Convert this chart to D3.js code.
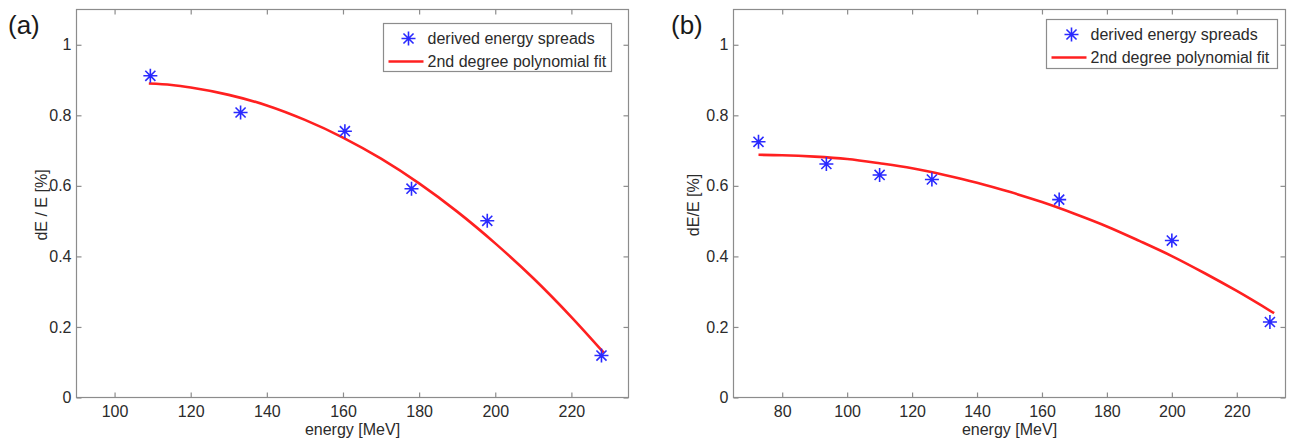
<!DOCTYPE html>
<html>
<head>
<meta charset="utf-8">
<script src="https://cdn.jsdelivr.net/npm/d3@7"></script>
<style>
  body { margin: 0; background: #fff; }
  svg { display: block; font-family: "Liberation Sans", Arial, Helvetica, sans-serif; }
</style>
</head>
<body>
<script>
// panel (a) - measured points + fitted curve samples
const energyA = [109.4, 133.1, 160.5, 178.0, 197.9, 227.9]
const spreadA = [0.912, 0.808, 0.755, 0.592, 0.501, 0.119]
const fitEnergyA = [109, 115, 120, 130, 140, 150, 160, 170, 180, 190, 200, 210, 220, 228.5]
const fitSpreadA = [0.890, 0.886, 0.879, 0.858, 0.828, 0.787, 0.737, 0.677, 0.607, 0.527, 0.437, 0.338, 0.228, 0.127]

// panel (b)
const energyB = [72.7, 93.6, 110.0, 126.1, 165.3, 200.0, 230.2]
const spreadB = [0.725, 0.662, 0.631, 0.618, 0.561, 0.445, 0.214]
const fitEnergyB = [72.7, 80, 90, 100, 110, 120, 130, 140, 150, 160, 170, 180, 190, 200, 210, 220, 231.5]
const fitSpreadB = [0.688, 0.687, 0.683, 0.676, 0.664, 0.650, 0.631, 0.609, 0.583, 0.554, 0.521, 0.485, 0.444, 0.401, 0.353, 0.302, 0.239]

const xTicksA = [100, 120, 140, 160, 180, 200, 220]
const xTicksB = [80, 100, 120, 140, 160, 180, 200, 220]
const yTicks = [0, 0.2, 0.4, 0.6, 0.8, 1]
const legendLabels = ['derived energy spreads', '2nd degree polynomial fit']

const svg = d3.select('body').append('svg').attr('width', 1290).attr('height', 443)

// matlab style '*' marker
const star = (r) => `M${-r},0H${r}M0,${-r}V${r}M${-r*0.72},${-r*0.72}L${r*0.72},${r*0.72}M${-r*0.72},${r*0.72}L${r*0.72},${-r*0.72}`

function panel(p) {
    const x = d3.scaleLinear(p.xDomain, [p.left, p.right])
    const y = d3.scaleLinear([0, 1.1], [p.bottom, p.top])
    const g = svg.append('g')

    // white box
    g.append('rect').attr('x', p.left).attr('y', p.top)
        .attr('width', p.right - p.left).attr('height', p.bottom - p.top)
        .attr('fill', '#fff').attr('stroke', '#8c8c8c').attr('stroke-width', 1.2)

    // inward ticks, all four sides
    const bottom = g.append('g').attr('transform', `translate(0,${p.bottom})`)
        .call(d3.axisBottom(x).tickValues(p.xTicks).tickSizeInner(-5).tickSizeOuter(0).tickPadding(8))
    const top = g.append('g').attr('transform', `translate(0,${p.top})`)
        .call(d3.axisTop(x).tickValues(p.xTicks).tickSizeInner(-5).tickSizeOuter(0).tickFormat(''))
    const left = g.append('g').attr('transform', `translate(${p.left},0)`)
        .call(d3.axisLeft(y).tickValues(yTicks).tickSizeInner(-5).tickSizeOuter(0).tickPadding(5).tickFormat(d => String(d)))
    const right = g.append('g').attr('transform', `translate(${p.right},0)`)
        .call(d3.axisRight(y).tickValues(yTicks).tickSizeInner(-5).tickSizeOuter(0).tickFormat(''))
    ;[bottom, top, left, right].forEach(a => {
        a.select('.domain').remove()
        a.selectAll('line').attr('stroke', '#8c8c8c').attr('stroke-width', 1.2)
        a.selectAll('text').attr('fill', '#2b2b2b').attr('font-size', 16)
            .attr('font-family', '"Liberation Sans", Arial, sans-serif')
    })
    bottom.selectAll('text').attr('dy', '0.71em')

    // axis titles
    g.append('text').attr('x', (p.left + p.right) / 2).attr('y', 435)
        .attr('text-anchor', 'middle').attr('font-size', 16).attr('fill', '#2b2b2b').text('energy [MeV]')
    g.append('text').attr('transform', `translate(${p.yLabelX},205) rotate(-90)`)
        .attr('text-anchor', 'middle').attr('font-size', 16).attr('fill', '#2b2b2b').text(p.yLabel)

    // fit curve
    const fit = p.fitX.map((v, i) => [v, p.fitY[i]])
    g.append('path').datum(fit)
        .attr('d', d3.line().x(d => x(d[0])).y(d => y(d[1])).curve(d3.curveMonotoneX))
        .attr('fill', 'none').attr('stroke', '#ff2020').attr('stroke-width', 2.6)

    // data stars
    g.selectAll('path.pt').data(p.ptX.map((v, i) => [v, p.ptY[i]])).enter().append('path')
        .attr('class', 'pt')
        .attr('transform', d => `translate(${x(d[0])},${y(d[1])})`)
        .attr('d', star(7))
        .attr('stroke', '#2a2aff').attr('stroke-width', 1.6).attr('fill', 'none')

    // legend
    const L = p.legend
    g.append('rect').attr('x', L.x).attr('y', L.y).attr('width', L.w).attr('height', L.h)
        .attr('fill', '#fff').attr('stroke', '#8c8c8c').attr('stroke-width', 1.2)
    g.append('path').attr('transform', `translate(${L.x + 25},${L.y + 15})`).attr('d', star(7))
        .attr('stroke', '#2a2aff').attr('stroke-width', 1.6).attr('fill', 'none')
    g.append('line').attr('x1', L.x + 5).attr('x2', L.x + 40)
        .attr('y1', L.y + 38).attr('y2', L.y + 38)
        .attr('stroke', '#ff2020').attr('stroke-width', 2.6)
    legendLabels.forEach((t, i) => {
        g.append('text').attr('x', L.x + 44).attr('y', L.y + 20 + i * 23)
            .attr('font-size', 16).attr('fill', '#2b2b2b').text(t)
    })

    // panel tag
    svg.append('text').attr('x', p.tagX).attr('y', 34).attr('font-size', 26).attr('fill', '#1a1a1a').text(p.tag)
}

panel({
    tag: '(a)', tagX: 8,
    left: 76.5, right: 628.5, top: 9.5, bottom: 397.5,
    xDomain: [90, 235], xTicks: xTicksA,
    yLabel: 'dE / E [%]', yLabelX: 47,
    ptX: energyA, ptY: spreadA, fitX: fitEnergyA, fitY: fitSpreadA,
    legend: {x: 383.5, y: 23.5, w: 228, h: 48}
})

panel({
    tag: '(b)', tagX: 671,
    left: 733.5, right: 1285.5, top: 9.5, bottom: 397.5,
    xDomain: [65, 235], xTicks: xTicksB,
    yLabel: 'dE/E [%]', yLabelX: 699,
    ptX: energyB, ptY: spreadB, fitX: fitEnergyB, fitY: fitSpreadB,
    legend: {x: 1046.5, y: 19.5, w: 231, h: 49}
})
</script>
</body>
</html>
